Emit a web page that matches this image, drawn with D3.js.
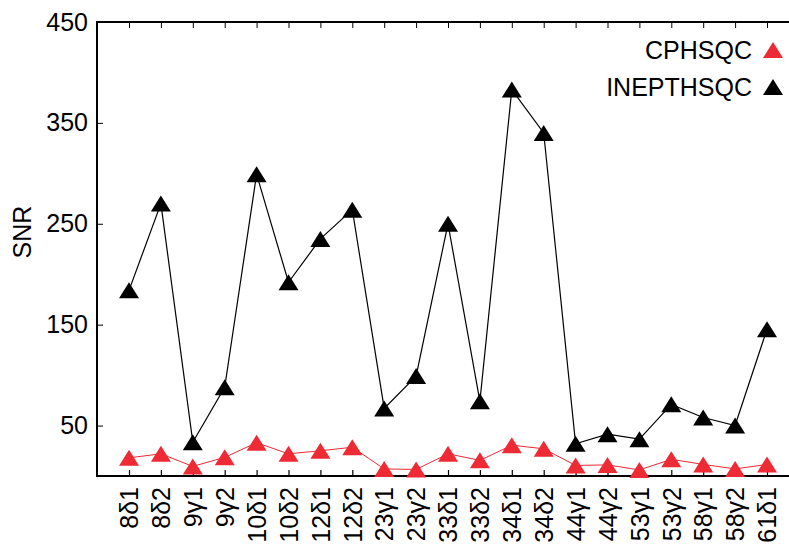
<!DOCTYPE html>
<html>
<head>
<meta charset="utf-8">
<script src="https://cdn.jsdelivr.net/npm/d3@7"></script>
<style>
  body { margin: 0; background: #fff; }
  text { font-family: "Liberation Sans", Arial, sans-serif; fill: #000; }
</style>
</head>
<body>
<script>
// residue labels along x
var labels = ["8δ1", "8δ2", "9γ1", "9γ2", "10δ1", "10δ2", "12δ1", "12δ2", "23γ1", "23γ2",
  "33δ1", "33δ2", "34δ1", "34δ2", "44γ1", "44γ2", "53γ1", "53γ2", "58γ1", "58γ2", "61δ1"];
var cphsqc = [18, 22, 9.5, 18.5, 33, 22, 25, 28.5, 7, 6.5,
  22, 15.5, 30.5, 27, 10.5, 11, 6, 16.5, 11.5, 7, 11.5];
var inepthsqc = [184, 270, 33.5, 88, 299, 192, 235, 264, 67, 99,
  250, 74, 383, 340, 32, 41.5, 36.5, 71, 58, 50, 145.5];
var yTicks = [50, 150, 250, 350, 450];

var W = 789, H = 545;
var plotL = 97, plotR = 795, plotT = 22, plotB = 476;
var fs = "25px";

var svg = d3.select("body").append("svg")
  .attr("width", W)
  .attr("height", H);

var x = d3.scalePoint()
  .domain(labels)
  .range([129, 767]);
var y = d3.scaleLinear()
  .domain([0, 450])
  .range([plotB, plotT]);

// frame
svg.append("rect")
  .attr("x", plotL).attr("y", plotT)
  .attr("width", plotR - plotL).attr("height", plotB - plotT)
  .attr("fill", "none").attr("stroke", "#000").attr("stroke-width", 2);

// y axis, ticks inside on both sides
var yAxis = svg.append("g")
  .attr("transform", "translate(" + plotL + ",0)")
  .call(d3.axisLeft(y).tickValues(yTicks).tickSize(-6).tickPadding(9));
yAxis.select(".domain").remove();
yAxis.selectAll("text").style("font-size", fs);
yAxis.selectAll("line").attr("stroke-width", 1);

svg.append("g")
  .attr("transform", "translate(" + plotR + ",0)")
  .call(d3.axisRight(y).tickValues(yTicks).tickSize(-6).tickFormat(""))
  .call(function (g) { g.select(".domain").remove(); });

// x axis, labels rotated
var xAxis = svg.append("g")
  .attr("transform", "translate(0," + plotB + ")")
  .call(d3.axisBottom(x).tickSize(-6));
xAxis.select(".domain").remove();
xAxis.selectAll("line").attr("stroke-width", 1.2);
xAxis.selectAll("text")
  .style("font-size", fs)
  .attr("text-anchor", "end")
  .attr("dy", "0.35em")
  .attr("transform", "rotate(-90)")
  .attr("x", -11)
  .attr("y", 0);

svg.append("g")
  .attr("transform", "translate(0," + plotT + ")")
  .call(d3.axisTop(x).tickSize(-6).tickFormat(""))
  .call(function (g) { g.select(".domain").remove(); });

svg.append("text")
  .attr("transform", "translate(31,232) rotate(-90)")
  .attr("text-anchor", "middle")
  .style("font-size", fs)
  .text("SNR");

function triangle(cx, cy) {
  return "M" + cx + "," + (cy - 8) + "L" + (cx + 10) + "," + (cy + 8) +
    "L" + (cx - 10) + "," + (cy + 8) + "Z";
}

var series = [
  { name: "INEPTHSQC", values: inepthsqc, color: "#000", width: 1.2 },
  { name: "CPHSQC", values: cphsqc, color: "#ee2a35", width: 1 }
];

var line = d3.line()
  .x(function (d, i) { return x(labels[i]); })
  .y(function (d) { return y(d); });

series.forEach(function (s) {
  svg.append("path")
    .datum(s.values)
    .attr("d", line)
    .attr("fill", "none")
    .attr("stroke", s.color)
    .attr("stroke-width", s.width);
  svg.append("g").selectAll("path")
    .data(s.values)
    .join("path")
    .attr("d", function (d, i) { return triangle(x(labels[i]), y(d)); })
    .attr("fill", s.color);
});

// legend
var legend = [
  { name: "CPHSQC", color: "#ee2a35", yy: 50 },
  { name: "INEPTHSQC", color: "#000", yy: 87 }
];
legend.forEach(function (l) {
  svg.append("text")
    .attr("x", 752).attr("y", l.yy)
    .attr("dy", "0.35em")
    .attr("text-anchor", "end")
    .style("font-size", fs)
    .text(l.name);
  svg.append("path")
    .attr("d", triangle(773, l.yy))
    .attr("fill", l.color);
});
</script>
</body>
</html>
